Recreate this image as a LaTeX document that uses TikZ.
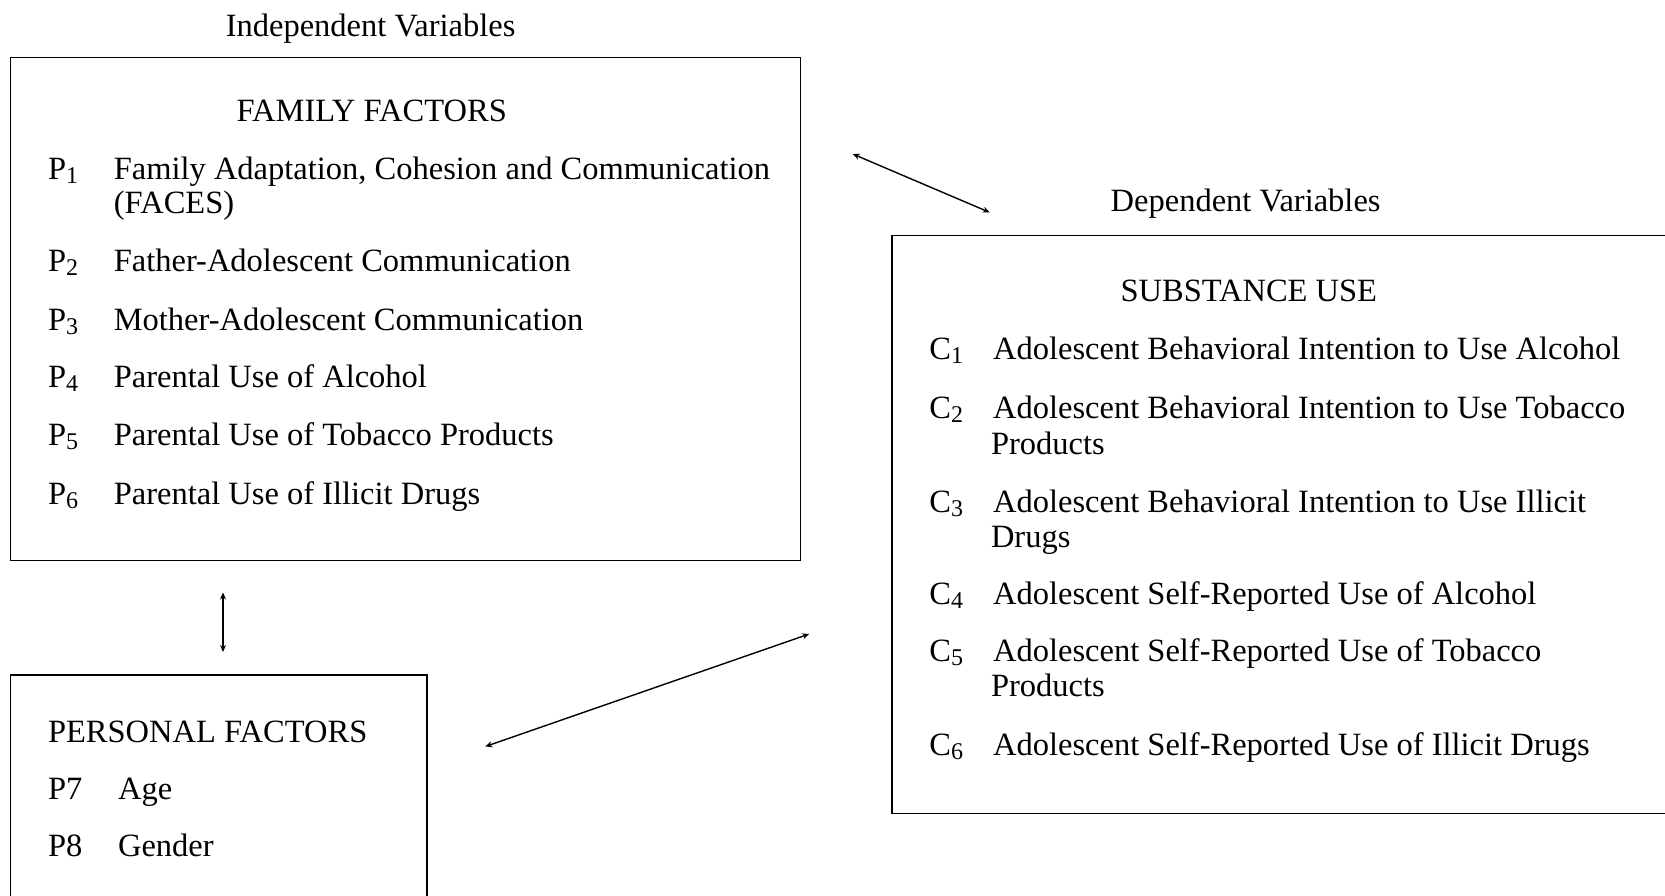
\documentclass[tikz,border=0pt]{standalone}
\usepackage{fontspec}
\setmainfont{Liberation Serif}
\usetikzlibrary{arrows.meta}
\newcommand{\lowdig}[1]{\raisebox{-0.3ex}{\fontsize{24pt}{26pt}\selectfont #1}}
\tikzset{
  frame/.style={draw=black, line width=1.4pt},
  txt/.style={anchor=base west, inner sep=0pt, font=\fontsize{32.5pt}{36pt}\selectfont},
  ctxt/.style={anchor=base, inner sep=0pt, font=\fontsize{32.5pt}{36pt}\selectfont},
  link/.style={line width=1.4pt, {Stealth[length=7pt,width=6pt]}-{Stealth[length=7pt,width=6pt]}}
}
\begin{document}
\begin{tikzpicture}[x=1pt,y=-1pt]
\useasboundingbox (0,0) rectangle (1665,895);
\clip (0,0) rectangle (1665,895);
% boxes
\draw[frame] (10.6,57.3) rectangle (800.7,560.7);
\draw[frame] (10.6,675) rectangle (426.9,910);
\draw[frame] (892,235.7) rectangle (1680,813.4);
% titles
\node[ctxt] (iv) at (370.6,36.5) {Independent Variables};
\node[ctxt] (ff) at (371.7,121.5) {FAMILY FACTORS};
\node[ctxt] (dv) at (1245.6,211) {Dependent Variables};
\node[ctxt] (su) at (1248.8,301) {SUBSTANCE USE};
% family items
\node[txt] (p1) at (47.8,179) {P\lowdig{1}};
\node[txt] (p1t) at (113.6,179) {Family Adaptation, Cohesion and Communication};
\node[txt] (p1u) at (113.6,213) {(FACES)};
\node[txt] (p2) at (47.8,271.5) {P\lowdig{2}};
\node[txt] (p2t) at (113.6,271.5) {Father-Adolescent Communication};
\node[txt] (p3) at (47.8,330) {P\lowdig{3}};
\node[txt] (p3t) at (113.6,330) {Mother-Adolescent Communication};
\node[txt] (p4) at (47.8,387.5) {P\lowdig{4}};
\node[txt] (p4t) at (113.6,387.5) {Parental Use of Alcohol};
\node[txt] (p5) at (47.8,445.5) {P\lowdig{5}};
\node[txt] (p5t) at (113.6,445.5) {Parental Use of Tobacco Products};
\node[txt] (p6) at (47.8,504) {P\lowdig{6}};
\node[txt] (p6t) at (113.6,504) {Parental Use of Illicit Drugs};
% personal
\node[txt] (pf) at (47.8,742) {PERSONAL FACTORS};
\node[txt] (p7) at (47.8,799.5) {P7};
\node[txt] (p7t) at (117.9,799.5) {Age};
\node[txt] (p8) at (47.8,856.5) {P8};
\node[txt] (p8t) at (117.9,856.5) {Gender};
% substance use items
\node[txt] (c1) at (929.2,359.5) {C\lowdig{1}};
\node[txt] (c1t) at (992.9,359.5) {Adolescent Behavioral Intention to Use Alcohol};
\node[txt] (c2) at (929.2,418) {C\lowdig{2}};
\node[txt] (c2t) at (992.9,418) {Adolescent Behavioral Intention to Use Tobacco};
\node[txt] (c2u) at (990.8,454) {Products};
\node[txt] (c3) at (929.2,512.5) {C\lowdig{3}};
\node[txt] (c3t) at (992.9,512.5) {Adolescent Behavioral Intention to Use Illicit};
\node[txt] (c3u) at (990.8,547.5) {Drugs};
\node[txt] (c4) at (929.2,604) {C\lowdig{4}};
\node[txt] (c4t) at (992.9,604) {Adolescent Self-Reported Use of Alcohol};
\node[txt] (c5) at (929.2,661.5) {C\lowdig{5}};
\node[txt] (c5t) at (992.9,661.5) {Adolescent Self-Reported Use of Tobacco};
\node[txt] (c5u) at (990.8,696.5) {Products};
\node[txt] (c6) at (929.2,755.5) {C\lowdig{6}};
\node[txt] (c6t) at (992.9,755.5) {Adolescent Self-Reported Use of Illicit Drugs};
% connectors
\coordinate (a1) at (852.7,154);
\coordinate (a2) at (989.7,212.4);
\coordinate (b1) at (223,592.5);
\coordinate (b2) at (223,652);
\coordinate (d1) at (485.3,746.5);
\coordinate (d2) at (809.2,634);
\draw[link] (a1) -- (a2);
\draw[link] (b1) -- (b2);
\draw[link] (d1) -- (d2);
\end{tikzpicture}
\end{document}
